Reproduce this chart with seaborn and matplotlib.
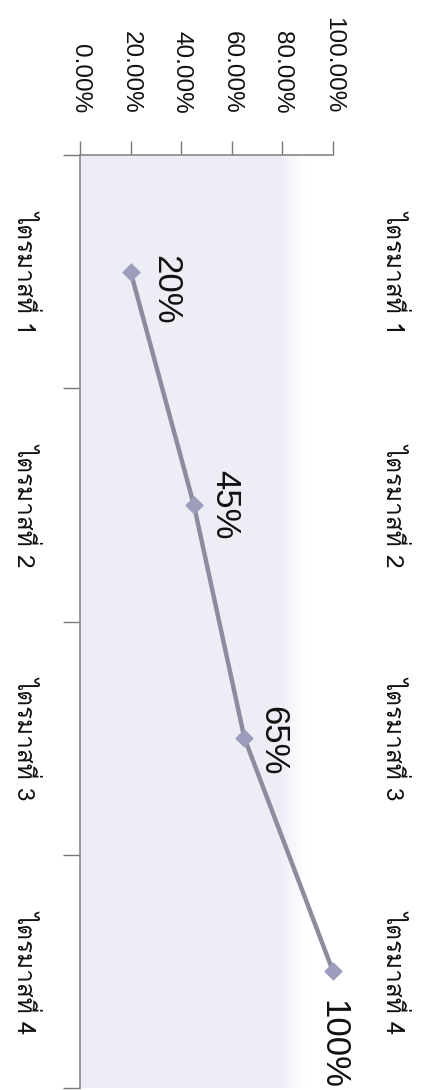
import matplotlib
matplotlib.use("Agg")
import matplotlib.pyplot as plt
from matplotlib.ticker import PercentFormatter
import numpy as np
import seaborn as sns

# data (quarters -> share reached)
quarters = ["ไตรมาสที่ 1", "ไตรมาสที่ 2", "ไตรมาสที่ 3", "ไตรมาสที่ 4"]
values = [0.20, 0.45, 0.65, 1.00]
point_labels = ["20%", "45%", "65%", "100%"]
pct_ticks = [0.0, 0.2, 0.4, 0.6, 0.8, 1.0]

sns.set_style("white")
thai_font = ["Loma", "Liberation Sans", "DejaVu Sans"]
num_font = ["Liberation Sans", "DejaVu Sans"]
plt.rcParams["font.family"] = num_font

W, H = 427, 1090
fig = plt.figure(figsize=(W / 100, H / 100), dpi=100)
ax = fig.add_axes([80 / W, 1 - 1088 / H, (333 - 80) / W, (1088 - 155) / H])

# plot-area background: lavender fading to white near the top of the value axis
ramp = np.linspace(0, 1, 400)
fade = np.clip((ramp - 0.79) / 0.10, 0, 1)
base = np.array([0.932, 0.932, 0.968])
img = base[None, :] * (1 - fade[:, None]) + np.ones(3)[None, :] * fade[:, None]
ax.imshow(img[None, :, :], extent=(0, 1, 0, 1), transform=ax.transAxes,
          aspect="auto", zorder=0, interpolation="bilinear")

sns.pointplot(x=values, y=quarters, orient="h", errorbar=None, color="#8c8c9e",
              markers="D", markersize=7, linewidth=3.2, ax=ax, zorder=3)
for ln in ax.lines:
    ln.set_markerfacecolor("#9c9cbc")
    ln.set_markeredgecolor("#9c9cbc")
    ln.set_clip_on(False)

offsets = [(35, 18), (31, 0), (28, 3), (0, 73)]
for i, (v, lab) in enumerate(zip(values, point_labels)):
    ax.annotate(lab, (v, i), xytext=(offsets[i][0], -offsets[i][1]),
                textcoords="offset pixels", rotation=-90, ha="center", va="center",
                fontsize=25, family=num_font, color="#111111", zorder=4,
                annotation_clip=False)

ax.set_xlim(0, 1)
ax.set_ylim(3.5, -0.5)

# value axis on top
ax.xaxis.tick_top()
ax.set_xticks(pct_ticks)
ax.xaxis.set_major_formatter(PercentFormatter(1, decimals=2))
ax.tick_params(axis="x", top=True, bottom=False, direction="out", length=10,
               width=1, color="#777777", pad=20, labelsize=17.5, labelcolor="#111111")
for t in ax.get_xticklabels():
    t.set_rotation(-90)
    t.set_va("bottom")
    t.set_ha("center")

# category axis: ticks between categories, labels centred
ax.set_yticks([-0.5, 0.5, 1.5, 2.5, 3.5])
ax.set_yticklabels([])
ax.set_yticks(range(len(quarters)), minor=True)
ax.set_yticklabels(quarters, minor=True, rotation=-90, va="center", ha="right",
                   fontsize=17.5, family=thai_font, color="#111111")
ax.tick_params(axis="y", which="major", left=True, length=12, width=1, color="#777777")
ax.tick_params(axis="y", which="minor", length=0, pad=30)

sec = ax.secondary_yaxis("right")
sec.set_yticks(range(len(quarters)))
sec.set_yticklabels(quarters, rotation=-90, va="center", ha="left",
                    fontsize=17.5, family=thai_font, color="#111111")
sec.tick_params(length=0, pad=36)
sec.spines["right"].set_visible(False)

ax.set_xlabel("")
ax.set_ylabel("")
for s in ["right", "bottom"]:
    ax.spines[s].set_visible(False)
for s in ["left", "top"]:
    ax.spines[s].set_color("#888888")
    ax.spines[s].set_linewidth(1.2)

fig.savefig("out.png", dpi=100, facecolor="white")
